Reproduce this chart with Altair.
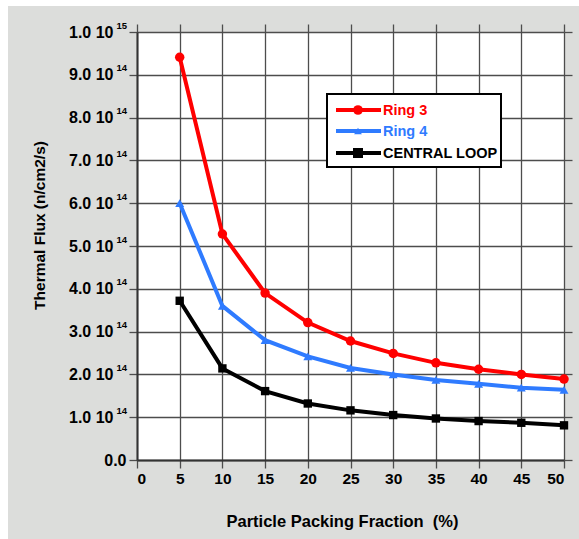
import altair as alt
import pandas as pd

# ---- data ----
packing = [5, 10, 15, 20, 25, 30, 35, 40, 45, 50]
ring3 = [9.41e14, 5.28e14, 3.90e14, 3.21e14, 2.78e14, 2.49e14, 2.27e14, 2.12e14, 2.00e14, 1.89e14]
ring4 = [6.00e14, 3.60e14, 2.80e14, 2.42e14, 2.15e14, 2.00e14, 1.87e14, 1.78e14, 1.69e14, 1.64e14]
central = [3.72e14, 2.14e14, 1.61e14, 1.32e14, 1.16e14, 1.05e14, 0.97e14, 0.91e14, 0.87e14, 0.81e14]

series_names = ["Ring 3", "Ring 4", "CENTRAL LOOP"]
series_colors = ["#ff0000", "#2f7bff", "#000000"]
series_shapes = ["circle", "triangle-up", "square"]
series_sizes = [90, 70, 115]

x_ticks = [0, 5, 10, 15, 20, 25, 30, 35, 40, 45, 50]
y_ticks = [0, 1e14, 2e14, 3e14, 4e14, 5e14, 6e14, 7e14, 8e14, 9e14, 1e15]
y_exponents = ["", "14", "14", "14", "14", "14", "14", "14", "14", "14", "15"]

rows = []
for name, vals in zip(series_names, [ring3, ring4, central]):
    for x, v in zip(packing, vals):
        rows.append({"series": name, "x": x, "flux": v})
df = pd.DataFrame(rows)

W, H = 427, 428
FONT = "Liberation Sans"
GRID = "#4d4d4d"

xscale = alt.Scale(domain=[0, 50], nice=False, zero=False)
yscale = alt.Scale(domain=[0, 1e15], nice=False)
cscale = alt.Scale(domain=series_names, range=series_colors)

x_bottom = alt.Axis(
    values=x_ticks, grid=True, gridColor=GRID, gridWidth=1.3,
    domainColor="#333333", domainWidth=2,
    tickColor=GRID, tickSize=8, tickWidth=1.3,
    labelFont=FONT, labelFontSize=15.5, labelFontWeight="bold", labelColor="black",
    labelPadding=3, labelAngle=0,
    title="Particle Packing Fraction\u00a0\u00a0(%)", titleFont=FONT, titleFontSize=16.5,
    titleFontWeight="bold", titleColor="black",
    titleX=205, titleY=61, titleAlign="center", titleBaseline="middle",
)
y_left = alt.Axis(
    values=y_ticks, grid=True, gridColor=GRID, gridWidth=1.3,
    domainColor="#333333", domainWidth=2,
    tickColor=GRID, tickSize=8, tickWidth=1.3,
    labelFont=FONT, labelFontSize=16, labelFontWeight="bold", labelColor="black",
    labelExpr="datum.value == 0 ? '0.0' : format(datum.value / pow(10, floor(log(datum.value) / LN10 + 1e-9)), '.1f') + ' 10'",
    labelPadding={"condition": {"test": "datum.value == 0", "value": 3}, "value": 16},
    title="Thermal Flux (n/cm2/s)", titleFont=FONT, titleFontSize=15.5,
    titleFontWeight="bold", titleColor="black",
    titleX=-98, titleY=193, titleAngle=270, titleAlign="center", titleBaseline="middle",
)
x_top = alt.Axis(orient="top", values=x_ticks, labels=False, domain=False, grid=False,
                 tickColor=GRID, tickSize=8, tickWidth=1.3, title=None)
y_right = alt.Axis(orient="right", values=y_ticks, labels=False, domain=False, grid=False,
                   tickColor=GRID, tickSize=8, tickWidth=1.3, title=None)

lines = alt.Chart(df).mark_line(strokeWidth=4).encode(
    x=alt.X("x:Q", scale=xscale, axis=x_bottom),
    y=alt.Y("flux:Q", scale=yscale, axis=y_left),
    color=alt.Color("series:N", scale=cscale, legend=None),
    detail="series:N",
)

points = alt.Chart(df).mark_point(filled=True, opacity=1).encode(
    x=alt.X("x:Q", scale=xscale, axis=x_top),
    y=alt.Y("flux:Q", scale=yscale, axis=y_right),
    color=alt.Color("series:N", scale=cscale, legend=None),
    shape=alt.Shape("series:N", scale=alt.Scale(domain=series_names, range=series_shapes), legend=None),
    size=alt.Size("series:N", scale=alt.Scale(domain=series_names, range=series_sizes), legend=None),
)

sup_df = pd.DataFrame({"v": y_ticks, "e": y_exponents})
sup_df = sup_df[sup_df["e"] != ""]
sups = alt.Chart(sup_df).mark_text(
    font=FONT, fontSize=9.5, fontWeight="bold", color="black", align="right", baseline="alphabetic", dy=-3.5
).encode(
    x=alt.value(-10),
    y=alt.Y("v:Q", scale=yscale, axis=None),
    text="e:N",
)

one = pd.DataFrame({"a": [0]})
margin_left = alt.Chart(one).mark_rect(color="white").encode(
    x=alt.value(-137), x2=alt.value(-129), y=alt.value(-32), y2=alt.value(H + 79))
margin_top = alt.Chart(one).mark_rect(color="white").encode(
    x=alt.value(-137), x2=alt.value(W + 15), y=alt.value(-32), y2=alt.value(-26))

legend_box = alt.Chart(one).mark_rect(fill="white", stroke="black", strokeWidth=2).encode(
    x=alt.value(190), x2=alt.value(364), y=alt.value(62), y2=alt.value(135))

legend_layers = [legend_box]
row_y = [78, 99, 121]
legend_marker_sizes = [95, 60, 100]
for name, col, shp, ms, yy in zip(series_names, series_colors, series_shapes, legend_marker_sizes, row_y):
    legend_layers.append(alt.Chart(one).mark_rule(color=col, strokeWidth=4).encode(
        x=alt.value(199), x2=alt.value(244), y=alt.value(yy)))
    legend_layers.append(alt.Chart(one).mark_point(filled=True, opacity=1, color=col, shape=shp, size=ms).encode(
        x=alt.value(221), y=alt.value(yy)))
    legend_layers.append(alt.Chart(one).mark_text(
        text=name, font=FONT, fontSize=14.5, fontWeight="bold", color=col, align="left", baseline="middle"
    ).encode(x=alt.value(246), y=alt.value(yy + 0.5)))

chart = alt.layer(
    margin_left, margin_top, lines, points, sups, *legend_layers
).resolve_axis(x="independent", y="independent").properties(
    width=W, height=H,
    autosize=alt.AutoSizeParams(type="none"),
    padding={"left": 137, "top": 32, "right": 15, "bottom": 79},
).configure(background="#dcdddb").configure_view(fill="white", strokeWidth=0)

chart.save("out.html", embed_options={"renderer": "svg", "actions": False})
